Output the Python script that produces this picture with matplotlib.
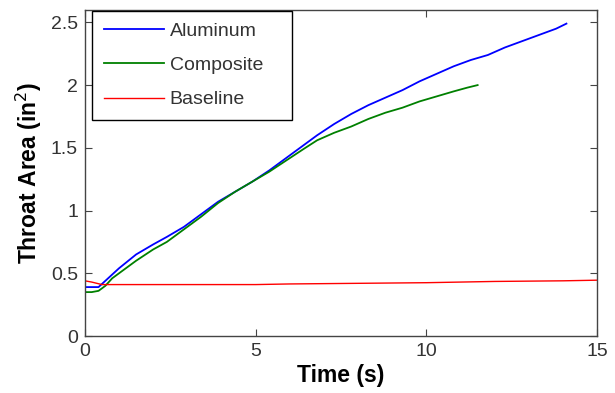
import matplotlib
matplotlib.use("Agg")
import matplotlib.pyplot as plt

# values
t_al = [0.0, 0.2, 0.4, 0.6, 0.8, 1.0, 1.5, 2.0, 2.4, 2.9, 3.4, 3.9, 4.4, 4.9, 5.4, 5.9,
        6.4, 6.8, 7.3, 7.8, 8.3, 8.8, 9.3, 9.8, 10.3, 10.8, 11.3, 11.8, 12.3, 12.8,
        13.3, 13.8, 14.1]
aluminum = [0.39, 0.39, 0.39, 0.44, 0.49, 0.54, 0.65, 0.73, 0.79, 0.87, 0.97, 1.07, 1.15,
            1.23, 1.32, 1.42, 1.52, 1.60, 1.69, 1.77, 1.84, 1.90, 1.96, 2.03, 2.09, 2.15,
            2.20, 2.24, 2.30, 2.35, 2.40, 2.45, 2.49]
t_co = [0.0, 0.2, 0.4, 0.6, 0.8, 1.0, 1.5, 2.0, 2.4, 2.9, 3.4, 3.9, 4.4, 4.9, 5.4, 5.9,
        6.4, 6.8, 7.3, 7.8, 8.3, 8.8, 9.3, 9.8, 10.3, 10.8, 11.2, 11.5]
composite = [0.35, 0.35, 0.36, 0.40, 0.46, 0.50, 0.60, 0.69, 0.75, 0.85, 0.95, 1.06, 1.15,
             1.23, 1.31, 1.40, 1.49, 1.56, 1.62, 1.67, 1.73, 1.78, 1.82, 1.87, 1.91, 1.95,
             1.98, 2.00]
t_base = [0.0, 0.2, 0.5, 1.0, 3.0, 5.0, 6.0, 8.0, 10.0, 12.0, 14.0, 15.0]
baseline = [0.44, 0.43, 0.41, 0.41, 0.41, 0.41, 0.415, 0.42, 0.425, 0.435, 0.44, 0.445]

plt.rcParams["font.family"] = ["Liberation Sans", "DejaVu Sans"]
fig = plt.figure(figsize=(6.15, 3.93), dpi=100)
ax = fig.add_axes([0.138, 0.145, 0.833, 0.830])

ax.plot(t_al, aluminum, color="#0000ff", lw=1.3, label="Aluminum")
ax.plot(t_co, composite, color="#008000", lw=1.3, label="Composite")
ax.plot(t_base, baseline, color="#ff0000", lw=1.0, label="Baseline")

ax.set_xlim(0, 15)
ax.set_ylim(0, 2.6)
ax.set_xticks([0, 5, 10, 15])
ax.set_yticks([0, 0.5, 1, 1.5, 2, 2.5])
ax.set_yticklabels(["0", "0.5", "1", "1.5", "2", "2.5"])
ax.tick_params(direction="in", top=True, right=True, length=5, width=0.8,
               labelsize=14, colors="#444444", labelcolor="#333333", pad=5)
for s in ax.spines.values():
    s.set_color("#444444")
    s.set_linewidth(1.0)

ax.set_xlabel("Time (s)", fontsize=16.5, fontweight="bold", labelpad=3)
ax.set_ylabel("Throat Area (in$^2$)", fontsize=16.5, fontweight="bold", labelpad=5)

leg = ax.legend(loc="upper left", bbox_to_anchor=(7 / 512, 0, 200 / 512, 1 - 1 / 326),
                mode="expand", fontsize=14, fancybox=False, edgecolor="black",
                framealpha=1, borderaxespad=0, handlelength=3.1, handletextpad=0.3,
                labelspacing=0.85, borderpad=0.6)
leg.get_frame().set_linewidth(1.0)
for txt in leg.get_texts():
    txt.set_color("#333333")

fig.savefig("out.png", dpi=100)
